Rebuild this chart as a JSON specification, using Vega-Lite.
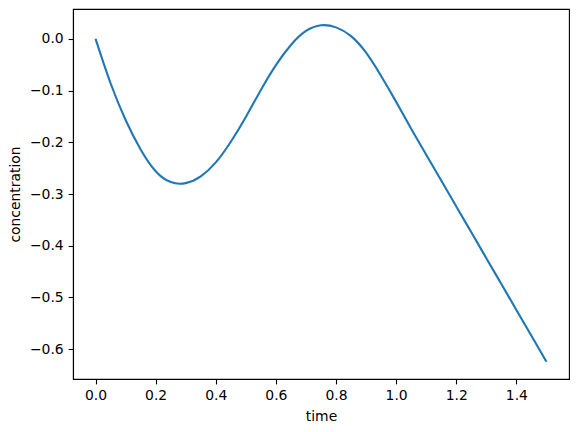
{
  "$schema": "https://vega.github.io/schema/vega-lite/v6.json",
  "width": 496,
  "height": 370,
  "autosize": {"type": "none"},
  "padding": {"left": 73, "top": 9, "right": 9, "bottom": 53},
  "background": "white",
  "config": {
    "view": {"stroke": "black", "strokeWidth": 1.1},
    "font": "DejaVu Sans",
    "axis": {
      "grid": false,
      "domainColor": "black",
      "domainWidth": 1.1,
      "tickColor": "black",
      "tickWidth": 1.1,
      "tickSize": 4.9,
      "labelPadding": 4.9,
      "labelFont": "DejaVu Sans",
      "labelFontSize": 13.9,
      "labelColor": "black",
      "titleFont": "DejaVu Sans",
      "titleFontSize": 13.9,
      "titleFontWeight": "normal",
      "titleColor": "black"
    }
  },
  "data": {
    "values": [
      {"time": 0.0, "concentration": 0.0},
      {"time": 0.05, "concentration": -0.086},
      {"time": 0.1, "concentration": -0.157},
      {"time": 0.15, "concentration": -0.214},
      {"time": 0.2, "concentration": -0.256},
      {"time": 0.25, "concentration": -0.277},
      {"time": 0.3, "concentration": -0.279},
      {"time": 0.35, "concentration": -0.266},
      {"time": 0.4, "concentration": -0.239},
      {"time": 0.45, "concentration": -0.199},
      {"time": 0.5, "concentration": -0.151},
      {"time": 0.55, "concentration": -0.099},
      {"time": 0.6, "concentration": -0.051},
      {"time": 0.65, "concentration": -0.012},
      {"time": 0.7, "concentration": 0.015},
      {"time": 0.75, "concentration": 0.026},
      {"time": 0.8, "concentration": 0.022},
      {"time": 0.85, "concentration": 0.005},
      {"time": 0.9, "concentration": -0.027},
      {"time": 0.95, "concentration": -0.072},
      {"time": 1.0, "concentration": -0.122},
      {"time": 1.05, "concentration": -0.174},
      {"time": 1.1, "concentration": -0.224},
      {"time": 1.15, "concentration": -0.274},
      {"time": 1.2, "concentration": -0.324},
      {"time": 1.25, "concentration": -0.374},
      {"time": 1.3, "concentration": -0.424},
      {"time": 1.35, "concentration": -0.474},
      {"time": 1.4, "concentration": -0.524},
      {"time": 1.45, "concentration": -0.574},
      {"time": 1.5, "concentration": -0.624}
    ]
  },
  "mark": {"type": "line", "color": "#1f77b4", "strokeWidth": 2.1, "interpolate": "natural", "clip": true},
  "encoding": {
    "x": {
      "field": "time",
      "type": "quantitative",
      "scale": {"domain": [-0.075, 1.575], "nice": false, "zero": false},
      "axis": {"title": "time", "values": [0, 0.2, 0.4, 0.6, 0.8, 1.0, 1.2, 1.4], "format": ".1f", "titlePadding": 7}
    },
    "y": {
      "field": "concentration",
      "type": "quantitative",
      "scale": {"domain": [-0.6575, 0.0575], "nice": false, "zero": false},
      "axis": {"title": "concentration", "values": [-0.6, -0.5, -0.4, -0.3, -0.2, -0.1, 0.0], "format": ".1f", "titlePadding": 7}
    }
  }
}
